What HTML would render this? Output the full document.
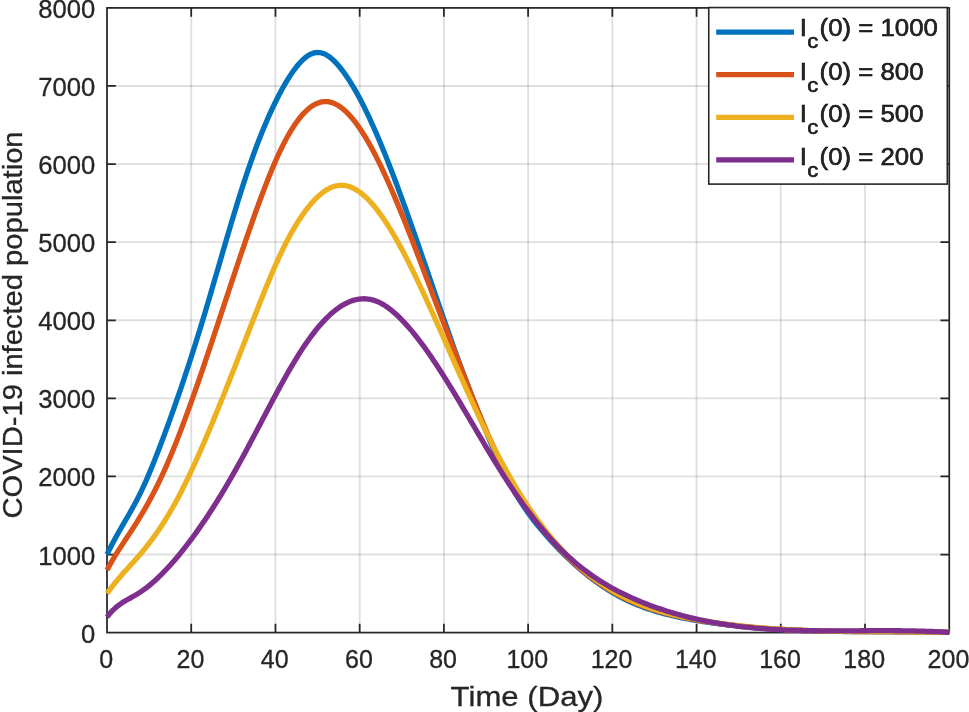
<!DOCTYPE html>
<html lang="en"><head><meta charset="utf-8"><title>COVID-19 infected population</title>
<style>html,body{margin:0;padding:0;background:#fff}svg{display:block;will-change:transform}text{font-family:"Liberation Sans",sans-serif;fill:#262626}</style></head><body>
<svg width="969" height="712" viewBox="0 0 969 712">
<rect width="969" height="712" fill="#fff"/>
<path d="M191.22 7.9V632.6M275.45 7.9V632.6M359.68 7.9V632.6M443.90 7.9V632.6M528.12 7.9V632.6M612.35 7.9V632.6M696.58 7.9V632.6M780.80 7.9V632.6M865.02 7.9V632.6" stroke="#262626" stroke-opacity="0.15" stroke-width="1.8" fill="none"/>
<path d="M107.0 554.51H949.25M107.0 476.43H949.25M107.0 398.34H949.25M107.0 320.25H949.25M107.0 242.16H949.25M107.0 164.07H949.25M107.0 85.99H949.25" stroke="#262626" stroke-opacity="0.15" stroke-width="1.8" fill="none"/>
<path d="M191.22 632.6v-8.8M191.22 7.9v8.8M275.45 632.6v-8.8M275.45 7.9v8.8M359.68 632.6v-8.8M359.68 7.9v8.8M443.90 632.6v-8.8M443.90 7.9v8.8M528.12 632.6v-8.8M528.12 7.9v8.8M612.35 632.6v-8.8M612.35 7.9v8.8M696.58 632.6v-8.8M696.58 7.9v8.8M780.80 632.6v-8.8M780.80 7.9v8.8M865.02 632.6v-8.8M865.02 7.9v8.8M107.0 554.51h8.8M949.25 554.51h-8.8M107.0 476.43h8.8M949.25 476.43h-8.8M107.0 398.34h8.8M949.25 398.34h-8.8M107.0 320.25h8.8M949.25 320.25h-8.8M107.0 242.16h8.8M949.25 242.16h-8.8M107.0 164.07h8.8M949.25 164.07h-8.8M107.0 85.99h8.8M949.25 85.99h-8.8" stroke="#262626" stroke-width="1.75" fill="none"/>
<rect x="107.0" y="7.9" width="842.25" height="624.70" fill="none" stroke="#262626" stroke-width="1.75"/>
<path d="M107.00 554.51L109.11 550.18L111.21 546.01L113.32 541.99L115.42 538.09L117.53 534.29L119.63 530.57L121.74 526.90L123.84 523.25L125.95 519.61L128.06 515.96L130.16 512.26L132.27 508.50L134.37 504.65L136.48 500.69L138.58 496.60L140.69 492.35L142.80 487.93L144.90 483.32L147.01 478.56L149.11 473.64L151.22 468.59L153.32 463.41L155.43 458.11L157.53 452.72L159.64 447.24L161.75 441.68L163.85 436.06L165.96 430.38L168.06 424.63L170.17 418.82L172.27 412.94L174.38 407.00L176.49 400.99L178.59 394.92L180.70 388.77L182.80 382.56L184.91 376.27L187.01 369.92L189.12 363.49L191.22 356.99L193.33 350.42L195.44 343.78L197.54 337.06L199.65 330.26L201.75 323.39L203.86 316.45L205.96 309.43L208.07 302.35L210.18 295.21L212.28 288.04L214.39 280.84L216.49 273.62L218.60 266.39L220.70 259.15L222.81 251.93L224.92 244.74L227.02 237.57L229.13 230.44L231.23 223.37L233.34 216.37L235.44 209.43L237.55 202.58L239.65 195.82L241.76 189.17L243.87 182.63L245.97 176.22L248.08 169.95L250.18 163.82L252.29 157.84L254.39 152.01L256.50 146.34L258.61 140.82L260.71 135.44L262.82 130.22L264.92 125.14L267.03 120.22L269.13 115.44L271.24 110.80L273.34 106.32L275.45 101.98L277.56 97.78L279.66 93.72L281.77 89.81L283.87 86.04L285.98 82.42L288.08 78.95L290.19 75.63L292.29 72.50L294.40 69.54L296.51 66.79L298.61 64.24L300.72 61.90L302.82 59.80L304.93 57.94L307.03 56.33L309.14 54.98L311.25 53.90L313.35 53.11L315.46 52.61L317.56 52.42L319.67 52.55L321.77 52.98L323.88 53.70L325.99 54.69L328.09 55.96L330.20 57.47L332.30 59.22L334.41 61.19L336.51 63.38L338.62 65.76L340.72 68.32L342.83 71.06L344.94 73.95L347.04 77.00L349.15 80.20L351.25 83.55L353.36 87.04L355.46 90.67L357.57 94.44L359.68 98.34L361.78 102.37L363.89 106.53L365.99 110.80L368.10 115.19L370.20 119.70L372.31 124.31L374.41 129.04L376.52 133.86L378.63 138.78L380.73 143.80L382.84 148.91L384.94 154.10L387.05 159.38L389.15 164.73L391.26 170.17L393.37 175.67L395.47 181.24L397.58 186.88L399.68 192.58L401.79 198.33L403.89 204.14L406.00 210.00L408.10 215.90L410.21 221.85L412.32 227.83L414.42 233.84L416.53 239.89L418.63 245.96L420.74 252.06L422.84 258.17L424.95 264.30L427.06 270.44L429.16 276.59L431.27 282.73L433.37 288.88L435.48 295.02L437.58 301.15L439.69 307.26L441.79 313.36L443.90 319.43L446.01 325.48L448.11 331.49L450.22 337.47L452.32 343.42L454.43 349.31L456.53 355.16L458.64 360.96L460.75 366.70L462.85 372.39L464.96 378.01L467.06 383.57L469.17 389.07L471.27 394.51L473.38 399.90L475.48 405.24L477.59 410.53L479.70 415.78L481.80 420.98L483.91 426.14L486.01 431.27L488.12 436.35L490.22 441.38L492.33 446.34L494.44 451.22L496.54 456.01L498.65 460.69L500.75 465.25L502.86 469.69L504.96 473.99L507.07 478.14L509.17 482.15L511.28 486.03L513.39 489.78L515.49 493.40L517.60 496.91L519.70 500.31L521.81 503.59L523.91 506.78L526.02 509.87L528.12 512.86L530.23 515.76L532.34 518.59L534.44 521.34L536.55 524.01L538.65 526.62L540.76 529.16L542.86 531.65L544.97 534.09L547.08 536.48L549.18 538.83L551.29 541.14L553.39 543.42L555.50 545.66L557.60 547.87L559.71 550.04L561.82 552.17L563.92 554.27L566.03 556.33L568.13 558.36L570.24 560.35L572.34 562.30L574.45 564.22L576.55 566.10L578.66 567.95L580.77 569.76L582.87 571.53L584.98 573.27L587.08 574.97L589.19 576.63L591.29 578.26L593.40 579.85L595.50 581.41L597.61 582.93L599.72 584.41L601.82 585.85L603.93 587.26L606.03 588.63L608.14 589.97L610.24 591.26L612.35 592.52L614.46 593.75L616.56 594.93L618.67 596.09L620.77 597.20L622.88 598.29L624.98 599.34L627.09 600.35L629.20 601.34L631.30 602.29L633.41 603.22L635.51 604.11L637.62 604.98L639.72 605.82L641.83 606.63L643.93 607.41L646.04 608.17L648.15 608.90L650.25 609.61L652.36 610.29L654.46 610.95L656.57 611.59L658.67 612.21L660.78 612.81L662.88 613.39L664.99 613.94L667.10 614.48L669.20 615.00L671.31 615.51L673.41 616.00L675.52 616.47L677.62 616.93L679.73 617.37L681.84 617.80L683.94 618.22L686.05 618.62L688.15 619.02L690.26 619.40L692.36 619.77L694.47 620.14L696.58 620.50L698.68 620.85L700.79 621.19L702.89 621.52L705.00 621.85L707.10 622.17L709.21 622.48L711.31 622.79L713.42 623.09L715.53 623.38L717.63 623.67L719.74 623.95L721.84 624.22L723.95 624.48L726.05 624.74L728.16 625.00L730.26 625.24L732.37 625.48L734.48 625.72L736.58 625.95L738.69 626.17L740.79 626.38L742.90 626.59L745.00 626.80L747.11 627.00L749.22 627.19L751.32 627.38L753.43 627.56L755.53 627.74L757.64 627.91L759.74 628.08L761.85 628.24L763.96 628.40L766.06 628.55L768.17 628.70L770.27 628.84L772.38 628.98L774.48 629.12L776.59 629.25L778.69 629.37L780.80 629.49L782.91 629.61L785.01 629.72L787.12 629.83L789.22 629.93L791.33 630.03L793.43 630.13L795.54 630.22L797.64 630.31L799.75 630.39L801.86 630.47L803.96 630.55L806.07 630.63L808.17 630.70L810.28 630.77L812.38 630.83L814.49 630.89L816.60 630.95L818.70 631.01L820.81 631.06L822.91 631.11L825.02 631.16L827.12 631.21L829.23 631.25L831.34 631.29L833.44 631.33L835.55 631.37L837.65 631.40L839.76 631.43L841.86 631.46L843.97 631.49L846.07 631.52L848.18 631.54L850.29 631.57L852.39 631.59L854.50 631.61L856.60 631.63L858.71 631.64L860.81 631.66L862.92 631.67L865.02 631.69L867.13 631.70L869.24 631.71L871.34 631.72L873.45 631.73L875.55 631.74L877.66 631.75L879.76 631.76L881.87 631.77L883.98 631.78L886.08 631.78L888.19 631.79L890.29 631.80L892.40 631.81L894.50 631.81L896.61 631.82L898.72 631.83L900.82 631.83L902.93 631.84L905.03 631.85L907.14 631.86L909.24 631.87L911.35 631.88L913.45 631.89L915.56 631.90L917.67 631.92L919.77 631.93L921.88 631.95L923.98 631.96L926.09 631.98L928.19 632.00L930.30 632.02L932.40 632.04L934.51 632.06L936.62 632.09L938.72 632.12L940.83 632.14L942.93 632.18L945.04 632.21L947.14 632.24L949.25 632.28" stroke="#0072BD" stroke-width="5.3" fill="none" stroke-linejoin="round"/>
<path d="M107.00 570.12L109.11 566.17L111.21 562.39L113.32 558.76L115.42 555.26L117.53 551.87L119.63 548.57L121.74 545.33L123.84 542.14L125.95 538.98L128.06 535.82L130.16 532.65L132.27 529.44L134.37 526.18L136.48 522.85L138.58 519.46L140.69 515.99L142.80 512.45L144.90 508.82L147.01 505.10L149.11 501.29L151.22 497.38L153.32 493.37L155.43 489.24L157.53 485.01L159.64 480.65L161.75 476.17L163.85 471.56L165.96 466.83L168.06 461.98L170.17 457.01L172.27 451.93L174.38 446.75L176.49 441.47L178.59 436.09L180.70 430.62L182.80 425.06L184.91 419.42L187.01 413.70L189.12 407.90L191.22 402.04L193.33 396.11L195.44 390.12L197.54 384.08L199.65 377.98L201.75 371.84L203.86 365.65L205.96 359.43L208.07 353.18L210.18 346.89L212.28 340.58L214.39 334.25L216.49 327.91L218.60 321.55L220.70 315.19L222.81 308.82L224.92 302.45L227.02 296.09L229.13 289.73L231.23 283.39L233.34 277.07L235.44 270.76L237.55 264.48L239.65 258.23L241.76 252.01L243.87 245.83L245.97 239.69L248.08 233.60L250.18 227.56L252.29 221.57L254.39 215.63L256.50 209.76L258.61 203.96L260.71 198.24L262.82 192.61L264.92 187.07L267.03 181.64L269.13 176.34L271.24 171.16L273.34 166.12L275.45 161.24L277.56 156.51L279.66 151.95L281.77 147.58L283.87 143.39L285.98 139.38L288.08 135.57L290.19 131.94L292.29 128.51L294.40 125.28L296.51 122.24L298.61 119.40L300.72 116.76L302.82 114.33L304.93 112.10L307.03 110.08L309.14 108.26L311.25 106.66L313.35 105.28L315.46 104.11L317.56 103.15L319.67 102.42L321.77 101.91L323.88 101.63L325.99 101.56L328.09 101.73L330.20 102.12L332.30 102.72L334.41 103.54L336.51 104.57L338.62 105.80L340.72 107.23L342.83 108.85L344.94 110.66L347.04 112.66L349.15 114.84L351.25 117.19L353.36 119.71L355.46 122.40L357.57 125.25L359.68 128.26L361.78 131.42L363.89 134.73L365.99 138.18L368.10 141.76L370.20 145.49L372.31 149.34L374.41 153.31L376.52 157.40L378.63 161.61L380.73 165.93L382.84 170.35L384.94 174.88L387.05 179.50L389.15 184.21L391.26 189.01L393.37 193.89L395.47 198.85L397.58 203.88L399.68 208.97L401.79 214.14L403.89 219.36L406.00 224.63L408.10 229.95L410.21 235.32L412.32 240.73L414.42 246.17L416.53 251.65L418.63 257.15L420.74 262.67L422.84 268.21L424.95 273.76L427.06 279.32L429.16 284.88L431.27 290.43L433.37 295.99L435.48 301.53L437.58 307.07L439.69 312.60L441.79 318.13L443.90 323.64L446.01 329.15L448.11 334.64L450.22 340.12L452.32 345.60L454.43 351.06L456.53 356.50L458.64 361.93L460.75 367.35L462.85 372.75L464.96 378.14L467.06 383.51L469.17 388.85L471.27 394.17L473.38 399.45L475.48 404.69L477.59 409.88L479.70 415.02L481.80 420.10L483.91 425.12L486.01 430.08L488.12 434.95L490.22 439.75L492.33 444.46L494.44 449.08L496.54 453.61L498.65 458.03L500.75 462.35L502.86 466.56L504.96 470.67L507.07 474.67L509.17 478.58L511.28 482.38L513.39 486.10L515.49 489.72L517.60 493.25L519.70 496.70L521.81 500.06L523.91 503.34L526.02 506.55L528.12 509.67L530.23 512.72L532.34 515.70L534.44 518.61L536.55 521.45L538.65 524.23L540.76 526.94L542.86 529.60L544.97 532.20L547.08 534.75L549.18 537.24L551.29 539.68L553.39 542.08L555.50 544.43L557.60 546.73L559.71 548.99L561.82 551.20L563.92 553.36L566.03 555.48L568.13 557.56L570.24 559.59L572.34 561.57L574.45 563.52L576.55 565.42L578.66 567.28L580.77 569.09L582.87 570.87L584.98 572.60L587.08 574.30L589.19 575.95L591.29 577.56L593.40 579.14L595.50 580.67L597.61 582.17L599.72 583.63L601.82 585.05L603.93 586.44L606.03 587.79L608.14 589.10L610.24 590.37L612.35 591.62L614.46 592.82L616.56 594.00L618.67 595.14L620.77 596.24L622.88 597.32L624.98 598.36L627.09 599.37L629.20 600.36L631.30 601.31L633.41 602.23L635.51 603.13L637.62 604.00L639.72 604.84L641.83 605.66L643.93 606.45L646.04 607.22L648.15 607.96L650.25 608.68L652.36 609.38L654.46 610.05L656.57 610.70L658.67 611.34L660.78 611.95L662.88 612.54L664.99 613.12L667.10 613.67L669.20 614.21L671.31 614.73L673.41 615.24L675.52 615.73L677.62 616.21L679.73 616.67L681.84 617.12L683.94 617.56L686.05 617.98L688.15 618.39L690.26 618.80L692.36 619.19L694.47 619.57L696.58 619.95L698.68 620.31L700.79 620.67L702.89 621.02L705.00 621.37L707.10 621.70L709.21 622.03L711.31 622.35L713.42 622.67L715.53 622.97L717.63 623.27L719.74 623.56L721.84 623.85L723.95 624.13L726.05 624.40L728.16 624.66L730.26 624.92L732.37 625.17L734.48 625.42L736.58 625.65L738.69 625.89L740.79 626.11L742.90 626.33L745.00 626.55L747.11 626.75L749.22 626.96L751.32 627.15L753.43 627.34L755.53 627.53L757.64 627.71L759.74 627.88L761.85 628.05L763.96 628.21L766.06 628.37L768.17 628.52L770.27 628.67L772.38 628.81L774.48 628.95L776.59 629.09L778.69 629.22L780.80 629.34L782.91 629.46L785.01 629.58L787.12 629.69L789.22 629.79L791.33 629.90L793.43 630.00L795.54 630.09L797.64 630.18L799.75 630.27L801.86 630.35L803.96 630.43L806.07 630.51L808.17 630.58L810.28 630.65L812.38 630.72L814.49 630.78L816.60 630.84L818.70 630.90L820.81 630.96L822.91 631.01L825.02 631.06L827.12 631.10L829.23 631.15L831.34 631.19L833.44 631.23L835.55 631.26L837.65 631.30L839.76 631.33L841.86 631.36L843.97 631.39L846.07 631.42L848.18 631.44L850.29 631.47L852.39 631.49L854.50 631.51L856.60 631.53L858.71 631.54L860.81 631.56L862.92 631.57L865.02 631.59L867.13 631.60L869.24 631.61L871.34 631.63L873.45 631.64L875.55 631.65L877.66 631.66L879.76 631.66L881.87 631.67L883.98 631.68L886.08 631.69L888.19 631.70L890.29 631.71L892.40 631.71L894.50 631.72L896.61 631.73L898.72 631.74L900.82 631.75L902.93 631.76L905.03 631.77L907.14 631.78L909.24 631.79L911.35 631.81L913.45 631.82L915.56 631.84L917.67 631.85L919.77 631.87L921.88 631.89L923.98 631.91L926.09 631.93L928.19 631.95L930.30 631.98L932.40 632.00L934.51 632.03L936.62 632.06L938.72 632.09L940.83 632.13L942.93 632.16L945.04 632.20L947.14 632.24L949.25 632.29" stroke="#D95319" stroke-width="5.3" fill="none" stroke-linejoin="round"/>
<path d="M107.00 593.55L109.11 590.62L111.21 587.80L113.32 585.08L115.42 582.45L117.53 579.91L119.63 577.42L121.74 575.00L123.84 572.61L125.95 570.26L128.06 567.93L130.16 565.60L132.27 563.27L134.37 560.92L136.48 558.55L138.58 556.13L140.69 553.66L142.80 551.15L144.90 548.58L147.01 545.94L149.11 543.25L151.22 540.49L153.32 537.65L155.43 534.74L157.53 531.75L159.64 528.68L161.75 525.52L163.85 522.27L165.96 518.92L168.06 515.48L170.17 511.93L172.27 508.27L174.38 504.52L176.49 500.66L178.59 496.71L180.70 492.66L182.80 488.53L184.91 484.30L187.01 480.00L189.12 475.61L191.22 471.15L193.33 466.61L195.44 462.00L197.54 457.33L199.65 452.59L201.75 447.78L203.86 442.93L205.96 438.01L208.07 433.05L210.18 428.04L212.28 422.98L214.39 417.88L216.49 412.74L218.60 407.57L220.70 402.36L222.81 397.13L224.92 391.87L227.02 386.59L229.13 381.28L231.23 375.96L233.34 370.62L235.44 365.26L237.55 359.90L239.65 354.52L241.76 349.13L243.87 343.74L245.97 338.35L248.08 332.96L250.18 327.57L252.29 322.18L254.39 316.79L256.50 311.43L258.61 306.08L260.71 300.77L262.82 295.49L264.92 290.27L267.03 285.11L269.13 280.02L271.24 275.01L273.34 270.09L275.45 265.28L277.56 260.57L279.66 255.97L281.77 251.51L283.87 247.17L285.98 242.98L288.08 238.92L290.19 235.01L292.29 231.24L294.40 227.61L296.51 224.13L298.61 220.78L300.72 217.57L302.82 214.49L304.93 211.55L307.03 208.75L309.14 206.09L311.25 203.57L313.35 201.20L315.46 198.98L317.56 196.91L319.67 195.00L321.77 193.25L323.88 191.67L325.99 190.25L328.09 189.00L330.20 187.93L332.30 187.03L334.41 186.31L336.51 185.78L338.62 185.43L340.72 185.27L342.83 185.30L344.94 185.53L347.04 185.94L349.15 186.53L351.25 187.31L353.36 188.26L355.46 189.37L357.57 190.66L359.68 192.11L361.78 193.72L363.89 195.48L365.99 197.39L368.10 199.46L370.20 201.66L372.31 204.00L374.41 206.48L376.52 209.09L378.63 211.83L380.73 214.70L382.84 217.68L384.94 220.78L387.05 223.99L389.15 227.30L391.26 230.72L393.37 234.25L395.47 237.86L397.58 241.57L399.68 245.37L401.79 249.25L403.89 253.22L406.00 257.25L408.10 261.37L410.21 265.55L412.32 269.79L414.42 274.09L416.53 278.46L418.63 282.87L420.74 287.33L422.84 291.84L424.95 296.39L427.06 300.98L429.16 305.60L431.27 310.24L433.37 314.92L435.48 319.61L437.58 324.32L439.69 329.05L441.79 333.79L443.90 338.54L446.01 343.29L448.11 348.05L450.22 352.81L452.32 357.57L454.43 362.33L456.53 367.08L458.64 371.82L460.75 376.54L462.85 381.25L464.96 385.95L467.06 390.62L469.17 395.27L471.27 399.90L473.38 404.49L475.48 409.06L477.59 413.59L479.70 418.09L481.80 422.54L483.91 426.96L486.01 431.33L488.12 435.65L490.22 439.92L492.33 444.14L494.44 448.30L496.54 452.41L498.65 456.45L500.75 460.43L502.86 464.35L504.96 468.21L507.07 472.00L509.17 475.73L511.28 479.39L513.39 483.00L515.49 486.54L517.60 490.02L519.70 493.45L521.81 496.81L523.91 500.11L526.02 503.35L528.12 506.53L530.23 509.66L532.34 512.72L534.44 515.73L536.55 518.67L538.65 521.56L540.76 524.40L542.86 527.17L544.97 529.89L547.08 532.56L549.18 535.17L551.29 537.72L553.39 540.22L555.50 542.66L557.60 545.05L559.71 547.38L561.82 549.67L563.92 551.90L566.03 554.08L568.13 556.21L570.24 558.29L572.34 560.33L574.45 562.31L576.55 564.25L578.66 566.14L580.77 567.99L582.87 569.79L584.98 571.54L587.08 573.26L589.19 574.93L591.29 576.56L593.40 578.14L595.50 579.69L597.61 581.19L599.72 582.66L601.82 584.09L603.93 585.48L606.03 586.83L608.14 588.15L610.24 589.43L612.35 590.68L614.46 591.90L616.56 593.08L618.67 594.22L620.77 595.34L622.88 596.42L624.98 597.47L627.09 598.50L629.20 599.49L631.30 600.45L633.41 601.39L635.51 602.30L637.62 603.18L639.72 604.03L641.83 604.86L643.93 605.67L646.04 606.45L648.15 607.20L650.25 607.94L652.36 608.65L654.46 609.34L656.57 610.00L658.67 610.65L660.78 611.28L662.88 611.89L664.99 612.47L667.10 613.05L669.20 613.60L671.31 614.14L673.41 614.66L675.52 615.17L677.62 615.66L679.73 616.14L681.84 616.60L683.94 617.05L686.05 617.49L688.15 617.92L690.26 618.33L692.36 618.74L694.47 619.14L696.58 619.53L698.68 619.91L700.79 620.28L702.89 620.64L705.00 621.00L707.10 621.34L709.21 621.68L711.31 622.02L713.42 622.34L715.53 622.66L717.63 622.97L719.74 623.27L721.84 623.56L723.95 623.85L726.05 624.13L728.16 624.41L730.26 624.67L732.37 624.93L734.48 625.19L736.58 625.43L738.69 625.67L740.79 625.91L742.90 626.13L745.00 626.35L747.11 626.57L749.22 626.78L751.32 626.98L753.43 627.18L755.53 627.37L757.64 627.55L759.74 627.73L761.85 627.91L763.96 628.08L766.06 628.24L768.17 628.40L770.27 628.55L772.38 628.70L774.48 628.84L776.59 628.98L778.69 629.11L780.80 629.24L782.91 629.36L785.01 629.48L787.12 629.60L789.22 629.71L791.33 629.81L793.43 629.91L795.54 630.01L797.64 630.10L799.75 630.19L801.86 630.28L803.96 630.36L806.07 630.44L808.17 630.52L810.28 630.59L812.38 630.66L814.49 630.72L816.60 630.78L818.70 630.84L820.81 630.90L822.91 630.95L825.02 631.00L827.12 631.05L829.23 631.09L831.34 631.13L833.44 631.17L835.55 631.21L837.65 631.24L839.76 631.28L841.86 631.31L843.97 631.34L846.07 631.36L848.18 631.39L850.29 631.41L852.39 631.43L854.50 631.45L856.60 631.47L858.71 631.49L860.81 631.50L862.92 631.52L865.02 631.53L867.13 631.54L869.24 631.55L871.34 631.56L873.45 631.57L875.55 631.58L877.66 631.59L879.76 631.60L881.87 631.61L883.98 631.62L886.08 631.62L888.19 631.63L890.29 631.64L892.40 631.65L894.50 631.65L896.61 631.66L898.72 631.67L900.82 631.68L902.93 631.69L905.03 631.70L907.14 631.71L909.24 631.72L911.35 631.73L913.45 631.74L915.56 631.76L917.67 631.77L919.77 631.79L921.88 631.81L923.98 631.83L926.09 631.85L928.19 631.87L930.30 631.89L932.40 631.92L934.51 631.95L936.62 631.98L938.72 632.01L940.83 632.04L942.93 632.08L945.04 632.12L947.14 632.16L949.25 632.20" stroke="#EDB120" stroke-width="5.3" fill="none" stroke-linejoin="round"/>
<path d="M107.00 616.98L109.11 614.34L111.21 611.97L113.32 609.83L115.42 607.89L117.53 606.15L119.63 604.56L121.74 603.10L123.84 601.75L125.95 600.49L128.06 599.28L130.16 598.11L132.27 596.94L134.37 595.76L136.48 594.53L138.58 593.24L140.69 591.86L142.80 590.41L144.90 588.88L147.01 587.28L149.11 585.60L151.22 583.85L153.32 582.03L155.43 580.15L157.53 578.20L159.64 576.18L161.75 574.11L163.85 571.97L165.96 569.77L168.06 567.52L170.17 565.21L172.27 562.85L174.38 560.43L176.49 557.96L178.59 555.45L180.70 552.88L182.80 550.27L184.91 547.61L187.01 544.90L189.12 542.14L191.22 539.34L193.33 536.49L195.44 533.59L197.54 530.64L199.65 527.65L201.75 524.61L203.86 521.53L205.96 518.41L208.07 515.24L210.18 512.02L212.28 508.76L214.39 505.46L216.49 502.12L218.60 498.73L220.70 495.30L222.81 491.83L224.92 488.31L227.02 484.76L229.13 481.16L231.23 477.53L233.34 473.85L235.44 470.14L237.55 466.38L239.65 462.59L241.76 458.75L243.87 454.88L245.97 450.98L248.08 447.05L250.18 443.09L252.29 439.11L254.39 435.12L256.50 431.11L258.61 427.10L260.71 423.08L262.82 419.05L264.92 415.04L267.03 411.03L269.13 407.03L271.24 403.05L273.34 399.10L275.45 395.16L277.56 391.26L279.66 387.38L281.77 383.55L283.87 379.76L285.98 376.01L288.08 372.31L290.19 368.66L292.29 365.08L294.40 361.55L296.51 358.09L298.61 354.71L300.72 351.39L302.82 348.16L304.93 345.01L307.03 341.94L309.14 338.97L311.25 336.09L313.35 333.30L315.46 330.61L317.56 328.02L319.67 325.52L321.77 323.13L323.88 320.84L325.99 318.66L328.09 316.57L330.20 314.60L332.30 312.73L334.41 310.98L336.51 309.33L338.62 307.80L340.72 306.38L342.83 305.08L344.94 303.90L347.04 302.83L349.15 301.88L351.25 301.06L353.36 300.36L355.46 299.78L357.57 299.33L359.68 299.01L361.78 298.82L363.89 298.76L365.99 298.83L368.10 299.03L370.20 299.37L372.31 299.85L374.41 300.47L376.52 301.22L378.63 302.12L380.73 303.15L382.84 304.31L384.94 305.60L387.05 307.01L389.15 308.54L391.26 310.17L393.37 311.92L395.47 313.76L397.58 315.70L399.68 317.74L401.79 319.86L403.89 322.06L406.00 324.34L408.10 326.70L410.21 329.13L412.32 331.64L414.42 334.21L416.53 336.86L418.63 339.56L420.74 342.33L422.84 345.17L424.95 348.06L427.06 351.00L429.16 354.01L431.27 357.06L433.37 360.16L435.48 363.32L437.58 366.51L439.69 369.75L441.79 373.04L443.90 376.36L446.01 379.71L448.11 383.10L450.22 386.52L452.32 389.97L454.43 393.44L456.53 396.93L458.64 400.45L460.75 403.98L462.85 407.53L464.96 411.09L467.06 414.66L469.17 418.24L471.27 421.82L473.38 425.40L475.48 428.98L477.59 432.56L479.70 436.14L481.80 439.70L483.91 443.25L486.01 446.79L488.12 450.31L490.22 453.82L492.33 457.30L494.44 460.75L496.54 464.18L498.65 467.58L500.75 470.95L502.86 474.29L504.96 477.58L507.07 480.84L509.17 484.05L511.28 487.23L513.39 490.37L515.49 493.46L517.60 496.52L519.70 499.53L521.81 502.50L523.91 505.43L526.02 508.31L528.12 511.15L530.23 513.95L532.34 516.70L534.44 519.41L536.55 522.07L538.65 524.69L540.76 527.26L542.86 529.79L544.97 532.26L547.08 534.69L549.18 537.07L551.29 539.41L553.39 541.69L555.50 543.93L557.60 546.11L559.71 548.25L561.82 550.34L563.92 552.38L566.03 554.38L568.13 556.33L570.24 558.24L572.34 560.10L574.45 561.92L576.55 563.69L578.66 565.43L580.77 567.12L582.87 568.78L584.98 570.39L587.08 571.97L589.19 573.51L591.29 575.01L593.40 576.48L595.50 577.91L597.61 579.31L599.72 580.67L601.82 582.00L603.93 583.30L606.03 584.57L608.14 585.81L610.24 587.02L612.35 588.20L614.46 589.35L616.56 590.47L618.67 591.57L620.77 592.64L622.88 593.69L624.98 594.71L627.09 595.71L629.20 596.69L631.30 597.64L633.41 598.58L635.51 599.49L637.62 600.39L639.72 601.27L641.83 602.13L643.93 602.97L646.04 603.79L648.15 604.60L650.25 605.40L652.36 606.18L654.46 606.94L656.57 607.68L658.67 608.41L660.78 609.13L662.88 609.83L664.99 610.51L667.10 611.18L669.20 611.84L671.31 612.48L673.41 613.11L675.52 613.72L677.62 614.32L679.73 614.90L681.84 615.47L683.94 616.03L686.05 616.57L688.15 617.10L690.26 617.62L692.36 618.12L694.47 618.62L696.58 619.09L698.68 619.56L700.79 620.01L702.89 620.46L705.00 620.89L707.10 621.30L709.21 621.71L711.31 622.11L713.42 622.49L715.53 622.86L717.63 623.22L719.74 623.57L721.84 623.91L723.95 624.24L726.05 624.56L728.16 624.87L730.26 625.17L732.37 625.46L734.48 625.74L736.58 626.01L738.69 626.27L740.79 626.52L742.90 626.76L745.00 626.99L747.11 627.22L749.22 627.43L751.32 627.64L753.43 627.84L755.53 628.03L757.64 628.21L759.74 628.39L761.85 628.56L763.96 628.72L766.06 628.87L768.17 629.01L770.27 629.15L772.38 629.28L774.48 629.41L776.59 629.53L778.69 629.64L780.80 629.74L782.91 629.84L785.01 629.94L787.12 630.03L789.22 630.11L791.33 630.19L793.43 630.26L795.54 630.33L797.64 630.39L799.75 630.45L801.86 630.50L803.96 630.55L806.07 630.59L808.17 630.63L810.28 630.67L812.38 630.70L814.49 630.73L816.60 630.75L818.70 630.78L820.81 630.79L822.91 630.81L825.02 630.82L827.12 630.83L829.23 630.84L831.34 630.85L833.44 630.85L835.55 630.85L837.65 630.85L839.76 630.85L841.86 630.85L843.97 630.84L846.07 630.83L848.18 630.83L850.29 630.82L852.39 630.81L854.50 630.80L856.60 630.79L858.71 630.78L860.81 630.77L862.92 630.76L865.02 630.75L867.13 630.74L869.24 630.73L871.34 630.72L873.45 630.72L875.55 630.71L877.66 630.71L879.76 630.70L881.87 630.70L883.98 630.70L886.08 630.70L888.19 630.70L890.29 630.71L892.40 630.72L894.50 630.73L896.61 630.74L898.72 630.76L900.82 630.77L902.93 630.80L905.03 630.82L907.14 630.85L909.24 630.88L911.35 630.92L913.45 630.96L915.56 631.00L917.67 631.05L919.77 631.10L921.88 631.16L923.98 631.22L926.09 631.29L928.19 631.36L930.30 631.44L932.40 631.52L934.51 631.61L936.62 631.71L938.72 631.81L940.83 631.91L942.93 632.02L945.04 632.14L947.14 632.27L949.25 632.40" stroke="#7E2F8E" stroke-width="5.3" fill="none" stroke-linejoin="round"/>
<text transform="translate(106.20 668.20)" font-size="25" text-anchor="middle" stroke="#262626" stroke-width="0.3">0</text>
<text transform="translate(190.42 668.20)" font-size="25" text-anchor="middle" stroke="#262626" stroke-width="0.3">20</text>
<text transform="translate(274.65 668.20)" font-size="25" text-anchor="middle" stroke="#262626" stroke-width="0.3">40</text>
<text transform="translate(358.88 668.20)" font-size="25" text-anchor="middle" stroke="#262626" stroke-width="0.3">60</text>
<text transform="translate(443.10 668.20)" font-size="25" text-anchor="middle" stroke="#262626" stroke-width="0.3">80</text>
<text transform="translate(527.33 668.20)" font-size="25" text-anchor="middle" stroke="#262626" stroke-width="0.3">100</text>
<text transform="translate(611.55 668.20)" font-size="25" text-anchor="middle" stroke="#262626" stroke-width="0.3">120</text>
<text transform="translate(695.78 668.20)" font-size="25" text-anchor="middle" stroke="#262626" stroke-width="0.3">140</text>
<text transform="translate(780.00 668.20)" font-size="25" text-anchor="middle" stroke="#262626" stroke-width="0.3">160</text>
<text transform="translate(864.23 668.20)" font-size="25" text-anchor="middle" stroke="#262626" stroke-width="0.3">180</text>
<text transform="translate(948.45 668.20)" font-size="25" text-anchor="middle" stroke="#262626" stroke-width="0.3">200</text>
<text transform="translate(95.30 642.60) scale(1.0250 1)" font-size="25" text-anchor="end" stroke="#262626" stroke-width="0.3">0</text>
<text transform="translate(95.30 564.51) scale(1.0250 1)" font-size="25" text-anchor="end" stroke="#262626" stroke-width="0.3">1000</text>
<text transform="translate(95.30 486.43) scale(1.0250 1)" font-size="25" text-anchor="end" stroke="#262626" stroke-width="0.3">2000</text>
<text transform="translate(95.30 408.34) scale(1.0250 1)" font-size="25" text-anchor="end" stroke="#262626" stroke-width="0.3">3000</text>
<text transform="translate(95.30 330.25) scale(1.0250 1)" font-size="25" text-anchor="end" stroke="#262626" stroke-width="0.3">4000</text>
<text transform="translate(95.30 252.16) scale(1.0250 1)" font-size="25" text-anchor="end" stroke="#262626" stroke-width="0.3">5000</text>
<text transform="translate(95.30 174.07) scale(1.0250 1)" font-size="25" text-anchor="end" stroke="#262626" stroke-width="0.3">6000</text>
<text transform="translate(95.30 95.99) scale(1.0250 1)" font-size="25" text-anchor="end" stroke="#262626" stroke-width="0.3">7000</text>
<text transform="translate(95.30 17.90) scale(1.0250 1)" font-size="25" text-anchor="end" stroke="#262626" stroke-width="0.3">8000</text>
<text transform="translate(527.00 705.70) scale(1.0930 1)" font-size="28.5" text-anchor="middle" stroke="#262626" stroke-width="0.3">Time (Day)</text>
<text transform="translate(21.90 325.00) rotate(-90) scale(1.0230 1)" font-size="28.5" text-anchor="middle" stroke="#262626" stroke-width="0.3">COVID-19 infected population</text>
<rect x="708.75" y="7.55" width="238.55" height="176.55" fill="#fff" stroke="#262626" stroke-width="1.6"/>
<path d="M716.2 32.10H794" stroke="#0072BD" stroke-width="5.3" fill="none"/>
<text transform="translate(799.70 35.70) scale(1.0750 1)" font-size="24" text-anchor="start" stroke="#000" stroke-width="0.55" fill="#000">I<tspan font-size="20.5" dy="12.1" dx="0.4">c</tspan><tspan dy="-12.1" dx="1.2">(0) = 1000</tspan></text>
<path d="M716.2 74.70H794" stroke="#D95319" stroke-width="5.3" fill="none"/>
<text transform="translate(799.70 79.90) scale(1.0750 1)" font-size="24" text-anchor="start" stroke="#000" stroke-width="0.55" fill="#000">I<tspan font-size="20.5" dy="12.1" dx="0.4">c</tspan><tspan dy="-12.1" dx="1.2">(0) = 800</tspan></text>
<path d="M716.2 117.30H794" stroke="#EDB120" stroke-width="5.3" fill="none"/>
<text transform="translate(799.70 121.60) scale(1.0750 1)" font-size="24" text-anchor="start" stroke="#000" stroke-width="0.55" fill="#000">I<tspan font-size="20.5" dy="12.1" dx="0.4">c</tspan><tspan dy="-12.1" dx="1.2">(0) = 500</tspan></text>
<path d="M716.2 159.90H794" stroke="#7E2F8E" stroke-width="5.3" fill="none"/>
<text transform="translate(799.70 165.10) scale(1.0750 1)" font-size="24" text-anchor="start" stroke="#000" stroke-width="0.55" fill="#000">I<tspan font-size="20.5" dy="12.1" dx="0.4">c</tspan><tspan dy="-12.1" dx="1.2">(0) = 200</tspan></text>
</svg></body></html>
